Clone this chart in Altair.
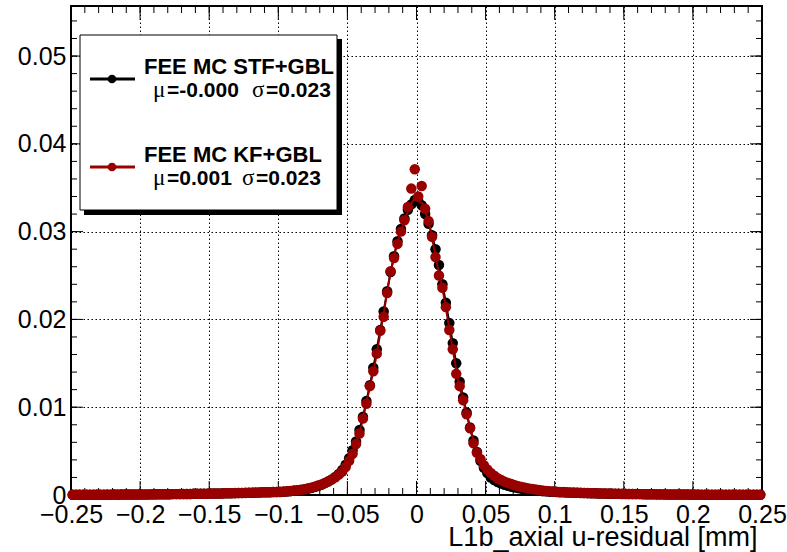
import altair as alt
import pandas as pd

# ---------------- data ----------------
N_BINS = 200
bin_centers = [round(-0.25 + 0.0025 * (i + 0.5), 5) for i in range(N_BINS)]

stf_gbl = [
    0.00002, 0.00003, 0.00003, 0.00003, 0.00004, 0.00003, 0.00003, 0.00004, 0.00004, 0.00003,
    0.00004, 0.00004, 0.00005, 0.00004, 0.00005, 0.00005, 0.00005, 0.00006, 0.00006, 0.00006,
    0.00007, 0.00006, 0.00007, 0.00007, 0.00008, 0.00008, 0.00008, 0.00009, 0.00009, 0.00010,
    0.00010, 0.00010, 0.00011, 0.00011, 0.00012, 0.00013, 0.00013, 0.00014, 0.00014, 0.00015,
    0.00016, 0.00016, 0.00017, 0.00018, 0.00019, 0.00019, 0.00020, 0.00021, 0.00023, 0.00023,
    0.00024, 0.00025, 0.00026, 0.00027, 0.00028, 0.00030, 0.00030, 0.00032, 0.00033, 0.00034,
    0.00035, 0.00038, 0.00040, 0.00044, 0.00048, 0.00052, 0.00057, 0.00063, 0.00070, 0.00079,
    0.00090, 0.00102, 0.00118, 0.00135, 0.00155, 0.00178, 0.00205, 0.00240, 0.00285, 0.00345,
    0.0042, 0.0051, 0.0061, 0.0074, 0.0089, 0.0107, 0.0125, 0.0145, 0.0166, 0.0188,
    0.0209, 0.0232, 0.0254, 0.0272, 0.0289, 0.0303, 0.0315, 0.0325, 0.0331, 0.0336,
    0.0335, 0.0330, 0.0320, 0.0309, 0.0296, 0.0280, 0.0262, 0.0240, 0.0219, 0.0196,
    0.0173, 0.0150, 0.0129, 0.0111, 0.0094, 0.0077, 0.0062, 0.0049, 0.0039, 0.0031,
    0.0025, 0.0020, 0.0017, 0.00148, 0.00130, 0.00116, 0.00104, 0.00094, 0.00085, 0.00078,
    0.00071, 0.00065, 0.00060, 0.00055, 0.00051, 0.00047, 0.00044, 0.00041, 0.00038, 0.00036,
    0.00034, 0.00032, 0.00030, 0.00029, 0.00027, 0.00026, 0.00025, 0.00023, 0.00022, 0.00021,
    0.00020, 0.00019, 0.00018, 0.00017, 0.00016, 0.00015, 0.00015, 0.00014, 0.00013, 0.00012,
    0.00012, 0.00011, 0.00011, 0.00010, 0.00010, 0.00009, 0.00009, 0.00008, 0.00008, 0.00007,
    0.00007, 0.00007, 0.00006, 0.00006, 0.00006, 0.00005, 0.00005, 0.00005, 0.00005, 0.00004,
    0.00004, 0.00004, 0.00004, 0.00004, 0.00003, 0.00003, 0.00004, 0.00003, 0.00003, 0.00003,
    0.00003, 0.00003, 0.00003, 0.00002, 0.00003, 0.00003, 0.00002, 0.00002, 0.00003, 0.00002,
]

kf_gbl = [
    0.00003, 0.00004, 0.00003, 0.00004, 0.00004, 0.00003, 0.00004, 0.00005, 0.00004, 0.00004,
    0.00005, 0.00004, 0.00005, 0.00005, 0.00006, 0.00005, 0.00006, 0.00006, 0.00005, 0.00006,
    0.00006, 0.00007, 0.00007, 0.00008, 0.00007, 0.00008, 0.00009, 0.00008, 0.00009, 0.00010,
    0.00010, 0.00011, 0.00010, 0.00012, 0.00012, 0.00013, 0.00013, 0.00014, 0.00015, 0.00015,
    0.00016, 0.00017, 0.00017, 0.00018, 0.00019, 0.00020, 0.00021, 0.00022, 0.00022, 0.00024,
    0.00025, 0.00026, 0.00027, 0.00028, 0.00029, 0.00030, 0.00031, 0.00032, 0.00034, 0.00035,
    0.00037, 0.00039, 0.00042, 0.00046, 0.00050, 0.00055, 0.00060, 0.00066, 0.00074, 0.00083,
    0.00095, 0.00107, 0.00120, 0.00138, 0.00157, 0.00178, 0.00203, 0.00232, 0.00268, 0.00318,
    0.0039, 0.0047, 0.0058, 0.0070, 0.0087, 0.0104, 0.0124, 0.0141, 0.0161, 0.0187,
    0.0203, 0.0230, 0.0255, 0.0270, 0.0286, 0.0300, 0.0313, 0.0328, 0.0349, 0.0371,
    0.0340, 0.0352, 0.0326, 0.0312, 0.0294, 0.0271, 0.0250, 0.0236, 0.0214, 0.0188,
    0.0166, 0.0138, 0.0124, 0.0108, 0.0092, 0.0076, 0.0059, 0.0048, 0.0041, 0.0034,
    0.0029, 0.0025, 0.0022, 0.0019, 0.0017, 0.00152, 0.00138, 0.00124, 0.00112, 0.00101,
    0.00092, 0.00083, 0.00075, 0.00068, 0.00062, 0.00056, 0.00051, 0.00047, 0.00043, 0.00040,
    0.00037, 0.00035, 0.00033, 0.00031, 0.00029, 0.00028, 0.00026, 0.00025, 0.00023, 0.00022,
    0.00021, 0.00020, 0.00019, 0.00018, 0.00017, 0.00016, 0.00016, 0.00015, 0.00014, 0.00013,
    0.00013, 0.00012, 0.00012, 0.00011, 0.00010, 0.00010, 0.00009, 0.00009, 0.00008, 0.00008,
    0.00008, 0.00007, 0.00007, 0.00007, 0.00006, 0.00006, 0.00006, 0.00005, 0.00005, 0.00005,
    0.00005, 0.00005, 0.00004, 0.00004, 0.00004, 0.00004, 0.00004, 0.00003, 0.00004, 0.00003,
    0.00003, 0.00003, 0.00004, 0.00003, 0.00003, 0.00003, 0.00002, 0.00003, 0.00003, 0.00003,
]

# smooth line drawn under the KF+GBL markers
kf_curve_x = [-0.25, -0.2, -0.15, -0.12, -0.1, -0.09, -0.08, -0.07, -0.06, -0.055, -0.05,
              -0.045, -0.04, -0.035, -0.03, -0.025, -0.02, -0.015, -0.01, -0.005, -0.002,
              0.0, 0.005, 0.01, 0.015, 0.02, 0.025, 0.03, 0.035, 0.04, 0.045, 0.05, 0.055,
              0.06, 0.07, 0.08, 0.09, 0.1, 0.12, 0.15, 0.2, 0.25]
kf_curve_y = [0.00003, 0.00006, 0.00015, 0.00026, 0.00036, 0.00048, 0.0007, 0.00113, 0.0019,
              0.0025, 0.0035, 0.0052, 0.0078, 0.0114, 0.0150, 0.0195, 0.0243, 0.0281, 0.0307,
              0.0328, 0.0337, 0.0336, 0.0331, 0.0303, 0.0262, 0.0225, 0.0177, 0.0131, 0.0100,
              0.0068, 0.0044, 0.0031, 0.0023, 0.0018, 0.0012, 0.00079, 0.00054, 0.00038,
              0.00024, 0.00015, 0.00006, 0.00003]

x_major = [-0.25, -0.2, -0.15, -0.1, -0.05, 0.0, 0.05, 0.1, 0.15, 0.2, 0.25]
y_major = [0.0, 0.01, 0.02, 0.03, 0.04, 0.05]
x_minor = [round(-0.25 + 0.01 * i, 3) for i in range(51)]
y_minor = [round(0.002 * i, 4) for i in range(28)]

series_names = ["FEE MC STF+GBL", "FEE MC KF+GBL"]
mu_texts = ["=-0.000", "=0.001"]
sigma_texts = ["=0.023", "=0.023"]

assert len(stf_gbl) == N_BINS and len(kf_gbl) == N_BINS
assert len(kf_curve_x) == len(kf_curve_y)

# ---------------- layout / style ----------------
W, H = 691, 489
FONT = "Liberation Sans"
RED = "#990000"
X_DOMAIN = [-0.25, 0.25]
Y_DOMAIN = [0, 0.0557]

xs = alt.Scale(domain=X_DOMAIN, nice=False, zero=False)
ys = alt.Scale(domain=Y_DOMAIN, nice=False, zero=False)

label_expr = "datum.value == 0 ? '0' : replace(format(datum.value, '.2~f'), '-', '\u2212')"

x_axis = alt.Axis(values=x_major, labelExpr=label_expr, ticks=False, domain=False,
                  grid=True, gridColor="black", gridDash=[1.5, 2.5], gridWidth=1,
                  labelFont=FONT, labelFontSize=25, labelColor="black", labelPadding=7,
                  labelFlush=False, labelOverlap=False,
                  title="L1b_axial u-residual [mm]", titleFont=FONT, titleFontSize=27,
                  titleFontWeight="normal", titleColor="black", titleAlign="right",
                  titleBaseline="alphabetic", titleX=W - 5, titleY=50)
y_axis = alt.Axis(values=y_major, labelExpr=label_expr, ticks=False, domain=False,
                  grid=True, gridColor="black", gridDash=[1.5, 2.5], gridWidth=1,
                  labelFont=FONT, labelFontSize=25, labelColor="black", labelPadding=5,
                  labelFlush=False, labelOverlap=False, title="")

X = alt.X("x:Q", scale=xs, axis=x_axis)
Y = alt.Y("y:Q", scale=ys, axis=y_axis)

stf_df = pd.DataFrame({"x": bin_centers, "y": stf_gbl})
kf_df = pd.DataFrame({"x": bin_centers, "y": kf_gbl})
kf_curve_df = pd.DataFrame({"x": kf_curve_x, "y": kf_curve_y})

layers = []

# inward ticks on all four sides
def xticks(vals, length):
    df = pd.DataFrame({"x": vals})
    bottom = alt.Chart(df).mark_rule(color="black", strokeWidth=1).encode(
        x=X, y=alt.value(H - length), y2=alt.value(H))
    top = alt.Chart(df).mark_rule(color="black", strokeWidth=1).encode(
        x=X, y=alt.value(0), y2=alt.value(length))
    return [bottom, top]

def yticks(vals, length):
    df = pd.DataFrame({"y": vals})
    left = alt.Chart(df).mark_rule(color="black", strokeWidth=1).encode(
        y=Y, x=alt.value(0), x2=alt.value(length))
    right = alt.Chart(df).mark_rule(color="black", strokeWidth=1).encode(
        y=Y, x=alt.value(W - length), x2=alt.value(W))
    return [left, right]

layers += xticks(x_major, 14) + xticks(x_minor, 7)
layers += yticks(y_major, 12) + yticks(y_minor, 6)

# data
PT = 110
layers.append(alt.Chart(stf_df).mark_line(color="black", strokeWidth=2).encode(x=X, y=Y))
layers.append(alt.Chart(stf_df).mark_circle(color="black", size=PT, opacity=1).encode(x=X, y=Y))
layers.append(alt.Chart(kf_curve_df).mark_line(color=RED, strokeWidth=2).encode(x=X, y=Y))
layers.append(alt.Chart(kf_df).mark_circle(color=RED, size=PT, opacity=1).encode(x=X, y=Y))

# legend box with shadow
one = pd.DataFrame({"k": [0]})
layers.append(alt.Chart(one).mark_rect(color="black").encode(
    x=alt.value(13), x2=alt.value(271), y=alt.value(33), y2=alt.value(209)))
layers.append(alt.Chart(one).mark_rect(fill="white", stroke="black", strokeWidth=1).encode(
    x=alt.value(9), x2=alt.value(266), y=alt.value(29), y2=alt.value(204)))

colors = ["black", RED]
row_y = [73, 161]
for name, mu, sg, col, ry in zip(series_names, mu_texts, sigma_texts, colors, row_y):
    layers.append(alt.Chart(one).mark_rule(color=col, strokeWidth=3).encode(
        x=alt.value(19), x2=alt.value(64), y=alt.value(ry)))
    layers.append(alt.Chart(one).mark_circle(color=col, size=75, opacity=1).encode(
        x=alt.value(41), y=alt.value(ry)))
    layers.append(alt.Chart(pd.DataFrame({"t": [name]})).mark_text(
        font=FONT, fontWeight="bold", fontSize=22, align="left", baseline="alphabetic",
        color="black").encode(text="t:N", x=alt.value(73), y=alt.value(ry - 5)))
    # second line: mu and sigma
    mu_x = 82
    eq1_x = 96
    sg_x = 181 if ry == 73 else 171
    eq2_x = sg_x + 14
    for txt, tx, fnt, wt, fs in [("\u03bc", mu_x, "Liberation Serif", "normal", 23),
                                 (mu, eq1_x, FONT, "bold", 21),
                                 ("\u03c3", sg_x, "Liberation Serif", "normal", 23),
                                 (sg, eq2_x, FONT, "bold", 21)]:
        layers.append(alt.Chart(pd.DataFrame({"t": [txt]})).mark_text(
            font=fnt, fontWeight=wt, fontSize=fs, align="left", baseline="alphabetic",
            color="black").encode(text="t:N", x=alt.value(tx), y=alt.value(ry + 18)))

chart = alt.layer(*layers).properties(
    width=W, height=H,
    padding={"left": 71, "top": 6, "right": 25, "bottom": 57},
    autosize=alt.AutoSizeParams(type="none"),
    background="white",
).configure_view(stroke="black", strokeWidth=2)

chart.save("out.html", embed_options={"renderer": "svg", "actions": False})
